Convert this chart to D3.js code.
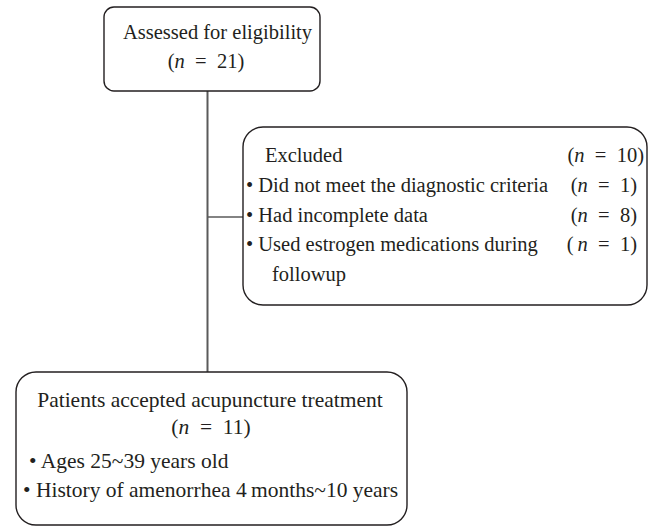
<!DOCTYPE html>
<html>
<head>
<meta charset="utf-8">
<script src="https://cdn.jsdelivr.net/npm/d3@7"></script>
<style>
  body { margin: 0; background: #fff; }
  text { font-family: "Liberation Serif", "DejaVu Serif", serif; font-size: 20.5px; fill: #231f20; }
  text.big { font-size: 21.5px; }
</style>
</head>
<body>
<div id="chart"></div>
<script>
// flowchart texts and counts
let topLabel = "Assessed for eligibility", topN = 21;
let exclTitle = "Excluded", exclN = 10;
let exclReasons = ["Did not meet the diagnostic criteria", "Had incomplete data", "Used estrogen medications during"];
let exclCounts = [1, 8, 1];
let exclWrap = "followup";
let accLabel = "Patients accepted acupuncture treatment", accN = 11;
let accNotes = ["Ages 25~39 years old", "History of amenorrhea 4\u2009months~10 years"];

let W = 654, H = 526;
let svg = d3.select("#chart").append("svg").attr("width", W).attr("height", H);

// box geometry
let b1 = {x: 104, y: 7, w: 216, h: 84, r: 10};
let b2 = {x: 243, y: 127, w: 404, h: 178, r: 20};
let b3 = {x: 16, y: 372, w: 391, h: 153, r: 20};
let spineX = 207.5;

// connectors
svg.append("line").attr("x1", spineX).attr("x2", spineX).attr("y1", b1.y + b1.h).attr("y2", b3.y)
  .attr("stroke", "#5a5a5a").attr("stroke-width", 2);
svg.append("line").attr("x1", spineX).attr("x2", b2.x).attr("y1", 217).attr("y2", 217)
  .attr("stroke", "#5a5a5a").attr("stroke-width", 1.5);

// boxes
[b1, b2, b3].forEach(function(b) {
  svg.append("rect").attr("x", b.x).attr("y", b.y).attr("width", b.w).attr("height", b.h)
    .attr("rx", b.r).attr("ry", b.r)
    .attr("fill", "#fff").attr("stroke", "#231f20").attr("stroke-width", 1.4);
});

function nText(g, x, y, n, anchor, gap, cls) {
  let t = g.append("text").attr("x", x).attr("y", y).attr("text-anchor", anchor || "start");
  if (cls) t.attr("class", cls);
  t.append("tspan").text("(" + (gap ? "\u2009" : ""));
  t.append("tspan").attr("font-style", "italic").text("n");
  t.append("tspan").text("\u2002=\u2002" + n + ")");
  return t;
}

// box 1
svg.append("text").attr("x", 123).attr("y", 39).text(topLabel);
nText(svg, 206, 68, topN, "middle");

// box 2
svg.append("text").attr("x", 265).attr("y", 162).text(exclTitle);
nText(svg, 644, 162, exclN, "end");
let rowY = d3.scaleLinear().domain([0, 1]).range([192, 221.5]);
exclReasons.forEach(function(r, i) {
  svg.append("text").attr("x", 246).attr("y", rowY(i)).text("\u2022 " + r);
  nText(svg, 637, rowY(i), exclCounts[i], "end", i == 2);
});
svg.append("text").attr("x", 272).attr("y", rowY(3)).text(exclWrap);

// box 3
svg.append("text").attr("class", "big").attr("x", 210).attr("y", 407).attr("text-anchor", "middle").text(accLabel);
nText(svg, 211, 434, accN, "middle", false, "big");
accNotes.forEach(function(s, i) {
  svg.append("text").attr("class", "big").attr("x", 29 - i * 6).attr("y", 468 + i * 29).text("\u2022 " + s);
});
</script>
</body>
</html>
